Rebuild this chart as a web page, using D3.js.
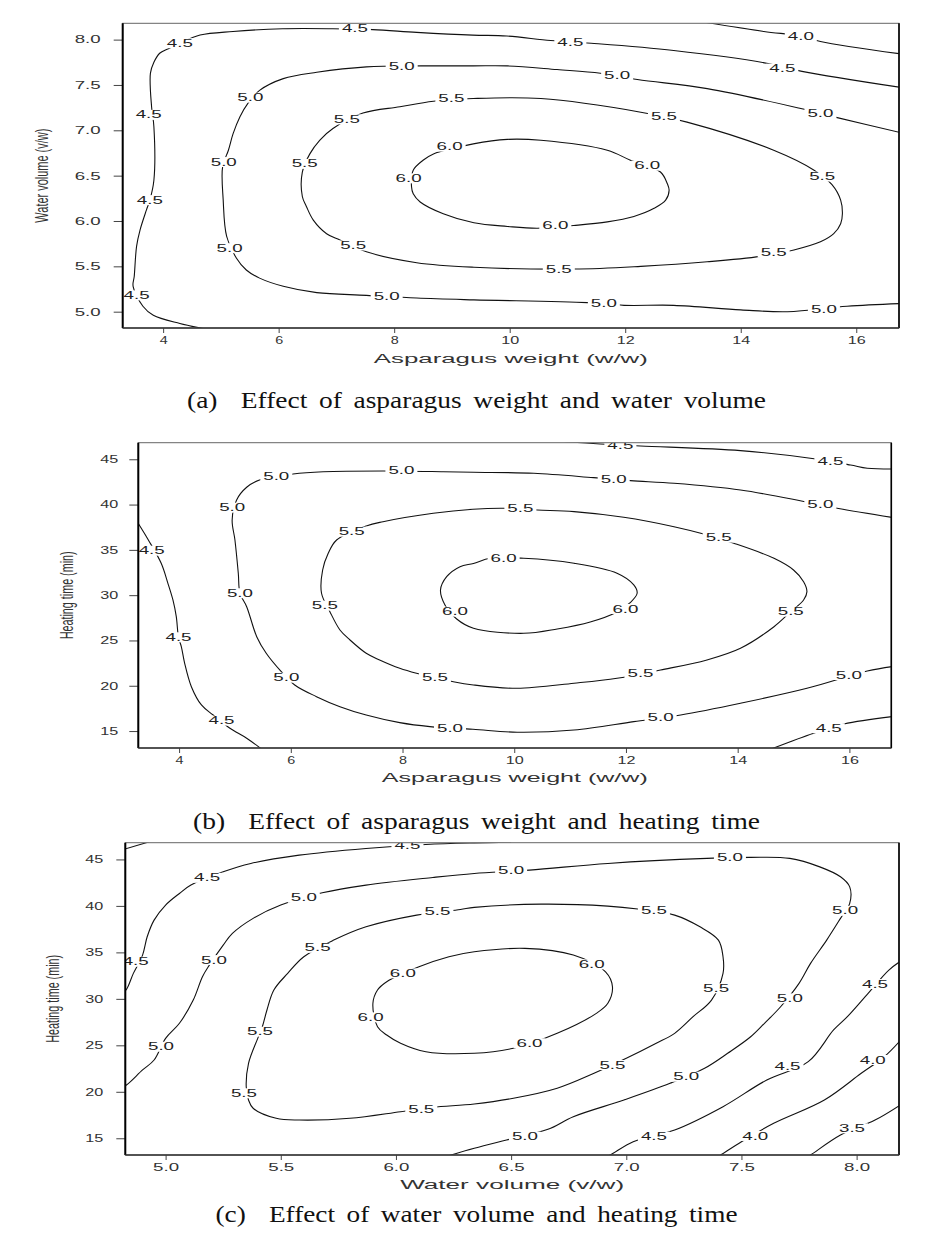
<!DOCTYPE html>
<html>
<head>
<meta charset="utf-8">
<script src="https://cdn.jsdelivr.net/npm/d3@7"></script>
<style>
  body { margin: 0; background: #fff; }
  svg text { font-family: "Liberation Sans", Arial, sans-serif; }
  .caption { font-family: "Liberation Serif", "Times New Roman", serif; white-space: pre; }
</style>
</head>
<body>
<svg id="chart" width="948" height="1243"></svg>
<script>
// ---------- tick values ----------
const ticksAx = [4, 6, 8, 10, 12, 14, 16];
const ticksAy = [5.0, 5.5, 6.0, 6.5, 7.0, 7.5, 8.0];
const ticksBx = [4, 6, 8, 10, 12, 14, 16];
const ticksBy = [15, 20, 25, 30, 35, 40, 45];
const ticksCx = [5.0, 5.5, 6.0, 6.5, 7.0, 7.5, 8.0];
const ticksCy = [15, 20, 25, 30, 35, 40, 45];

// ---------- (a) asparagus weight x water volume : contour lines [x, y] ----------
const a40 = [[13.3,8.2],[14.40,8.09],[15.04,8.04],[15.38,7.98],[16.8,7.84]];
const a40Lab = [[15.04,8.04]];
const a45 = [[4.8,4.80],[4.29,4.87],[3.83,4.96],[3.65,5.06],[3.48,5.28],[3.50,5.39],[3.54,5.72],[3.60,5.90],[3.71,6.12],[3.77,6.23],[3.84,6.45],[3.84,7.04],[3.80,7.26],[3.78,7.63],[3.84,7.75],[3.94,7.85],[4.09,7.90],[4.29,7.96],[4.64,8.05],[5.21,8.09],[6.07,8.12],[6.94,8.12],[7.63,8.11],[8.39,8.08],[9.36,8.05],[9.95,8.04],[10.71,7.99],[11.41,7.96],[12.84,7.88],[14.45,7.74],[15.06,7.65],[16.8,7.47]];
const a45Lab = [[3.54,5.18],[3.77,6.23],[3.75,7.17],[4.29,7.96],[7.32,8.12],[11.05,7.97],[14.72,7.68]];
const a50 = [[16.8,5.09],[15.84,5.06],[14.81,5.00],[14.00,5.02],[12.84,5.07],[11.98,5.07],[11.34,5.10],[9.38,5.13],[8.39,5.15],[7.52,5.18],[6.66,5.21],[6.08,5.28],[5.67,5.37],[5.44,5.46],[5.27,5.59],[5.10,5.83],[5.04,6.23],[5.03,6.60],[5.13,6.78],[5.21,6.96],[5.33,7.15],[5.47,7.30],[5.67,7.44],[6.08,7.57],[6.66,7.64],[7.52,7.70],[8.47,7.71],[9.37,7.71],[9.96,7.71],[10.82,7.67],[11.57,7.63],[12.21,7.56],[13.42,7.46],[15.04,7.24],[15.67,7.14],[16.8,6.97]];
const a50Lab = [[15.44,5.02],[11.63,5.09],[7.87,5.17],[5.15,5.70],[5.05,6.65],[5.51,7.36],[8.13,7.71],[11.86,7.60],[15.38,7.19]];
const a55 = [[6.41,6.27],[6.41,6.54],[6.54,6.74],[6.71,6.89],[6.94,7.02],[7.46,7.19],[8.10,7.26],[8.68,7.32],[9.37,7.35],[10.54,7.35],[12.27,7.20],[13.07,7.09],[14.57,6.78],[15.27,6.56],[15.58,6.40],[15.73,6.23],[15.76,6.08],[15.73,5.97],[15.61,5.86],[15.38,5.77],[14.92,5.68],[14.34,5.61],[13.42,5.55],[12.27,5.50],[11.11,5.47],[9.38,5.49],[8.39,5.54],[7.52,5.66],[7.06,5.79],[6.83,5.86],[6.60,6.01],[6.48,6.16]];
const a55Lab = [[6.45,6.63],[7.18,7.12],[8.99,7.35],[12.67,7.15],[15.41,6.49],[14.57,5.65],[10.85,5.47],[7.29,5.73]];
const a60 = [[8.30,6.38],[8.33,6.56],[8.50,6.67],[8.68,6.74],[9.37,6.85],[9.96,6.90],[10.54,6.89],[11.69,6.78],[12.09,6.67],[12.61,6.54],[12.73,6.41],[12.76,6.34],[12.70,6.23],[12.50,6.14],[12.15,6.05],[11.69,5.99],[11.11,5.95],[10.48,5.92],[9.96,5.94],[9.38,5.98],[8.85,6.08],[8.45,6.21],[8.33,6.30]];
const a60Lab = [[8.25,6.47],[8.96,6.82],[12.38,6.61],[10.79,5.95]];

// ---------- (b) asparagus weight x heating time ----------
const b45left = [[3.22,38.4],[3.45,36.09],[3.68,33.52],[3.80,31.31],[3.89,29.47],[3.95,27.63],[3.99,25.35],[4.04,24.32],[4.10,22.48],[4.22,19.90],[4.40,17.88],[4.61,16.77],[4.91,15.31],[5.21,14.21],[5.50,12.9]];
const b45leftLab = [[3.51,34.91],[3.99,25.35],[4.76,16.15]];
const b45top = [[10.90,46.95],[11.54,46.69],[12.26,46.47],[14.05,45.95],[15.30,45.11],[16.02,44.37],[16.32,44.01],[16.8,43.92]];
const b45topLab = [[11.90,46.58],[15.66,44.81]];
const b45low = [[14.55,12.9],[15.36,14.76],[15.90,15.78],[16.8,16.62]];
const b45lowLab = [[15.63,15.31]];
const b50 = [[16.8,38.55],[15.78,39.59],[15.12,40.43],[14.05,41.61],[12.86,42.35],[12.08,42.64],[11.42,42.97],[10.35,43.45],[9.27,43.57],[8.73,43.63],[7.65,43.71],[6.58,43.63],[6.04,43.38],[5.44,42.72],[5.21,41.91],[5.03,40.51],[4.95,38.30],[5.00,36.09],[5.06,32.42],[5.09,30.21],[5.21,28.73],[5.39,25.42],[5.56,23.59],[5.83,21.56],[6.07,20.09],[6.46,18.80],[6.88,17.69],[7.35,16.77],[7.95,15.93],[8.49,15.49],[9.26,15.20],[10.05,14.87],[11.07,15.12],[12.14,16.04],[12.98,16.77],[14.05,18.07],[15.24,19.72],[16.32,21.63],[16.8,22.15]];
const b50Lab = [[15.48,40.07],[11.78,42.83],[7.98,43.74],[5.74,43.08],[4.95,39.66],[5.09,30.21],[5.92,20.89],[8.85,15.31],[12.62,16.52],[15.99,21.19]];
const b55 = [[9.26,39.48],[8.55,39.04],[7.65,38.11],[7.35,37.64],[6.82,36.09],[6.67,34.62],[6.57,32.78],[6.55,30.21],[6.70,28.18],[6.88,26.16],[7.06,25.05],[7.35,23.59],[7.59,22.85],[7.95,21.93],[8.25,21.38],[8.91,20.45],[9.27,20.09],[10.05,19.72],[11.07,20.28],[11.84,20.83],[12.62,21.74],[13.45,22.85],[14.05,24.14],[14.65,26.52],[14.95,28.18],[15.18,29.47],[15.24,30.39],[15.18,31.49],[15.00,32.78],[14.65,34.07],[13.93,35.73],[13.39,36.75],[12.86,37.56],[11.96,38.60],[11.07,39.22],[10.41,39.40],[9.81,39.59]];
const b55Lab = [[7.09,37.01],[6.61,28.84],[8.58,20.94],[12.26,21.38],[14.95,28.18],[13.66,36.35],[10.11,39.59]];
const b60 = [[9.27,33.50],[9.57,34.07],[10.17,34.07],[11.07,33.52],[11.84,32.42],[12.14,31.13],[12.20,30.21],[12.07,29.14],[11.84,28.15],[11.36,27.04],[10.77,26.27],[10.17,25.79],[9.27,26.35],[8.97,27.37],[8.76,28.92],[8.68,30.57],[8.79,32.04],[9.03,33.15]];
const b60Lab = [[8.94,28.18],[9.81,34.07],[11.99,28.48]];

// ---------- (c) water volume x heating time ----------
const c45corner = [[4.80,45.95],[4.93,46.9]];
const c45top = [[4.81,30.6],[4.83,31.02],[4.86,32.74],[4.90,34.71],[4.92,36.68],[4.95,38.47],[5.00,40.09],[5.06,41.34],[5.11,42.24],[5.25,43.67],[5.37,44.57],[5.58,45.46],[5.87,46.18],[6.13,46.61],[6.34,46.78],[6.5,46.85]];
const c45topLab = [[4.87,33.99],[5.18,43.02],[6.05,46.54]];
const c50 = [[4.81,20.5],[4.83,20.73],[4.90,22.35],[4.95,23.42],[5.00,25.75],[5.06,27.37],[5.12,29.87],[5.16,32.38],[5.19,33.63],[5.25,35.78],[5.29,37.04],[5.38,38.66],[5.50,40.09],[5.68,41.41],[5.87,42.24],[6.16,43.06],[6.34,43.49],[6.58,43.85],[6.92,44.57],[7.35,45.11],[7.54,45.22],[7.71,45.11],[7.84,44.20],[7.93,43.13],[7.97,42.05],[7.97,40.27],[7.93,38.66],[7.87,36.32],[7.80,33.82],[7.75,31.67],[7.67,29.15],[7.60,27.37],[7.54,25.92],[7.44,24.14],[7.34,22.53],[7.19,20.91],[6.99,19.12],[6.77,17.32],[6.66,15.96],[6.48,14.82],[6.34,13.92],[6.20,12.9]];
const c50Lab = [[4.98,24.85],[5.21,34.17],[5.60,40.87],[6.50,43.77],[7.45,45.17],[7.95,39.47],[7.71,30.05],[7.26,21.62],[6.56,15.17]];
const c55 = [[5.42,27.00],[5.44,28.80],[5.47,30.95],[5.53,32.74],[5.60,34.53],[5.73,36.32],[5.87,37.75],[6.09,39.01],[6.28,39.62],[6.34,39.84],[6.63,40.19],[6.92,39.98],[7.05,39.66],[7.21,39.01],[7.32,37.75],[7.40,36.32],[7.42,34.53],[7.42,32.74],[7.37,29.87],[7.29,28.08],[7.21,26.29],[7.13,25.22],[7.00,23.60],[6.86,21.99],[6.70,20.38],[6.51,19.30],[6.34,18.69],[6.16,18.33],[6.02,17.86],[5.80,17.15],[5.58,16.96],[5.48,17.15],[5.38,18.23],[5.36,19.12],[5.35,20.55],[5.36,23.06],[5.40,25.75]];
const c55Lab = [[5.66,35.49],[6.18,39.44],[7.12,39.47],[7.39,31.13],[6.94,22.88],[6.11,18.12],[5.34,19.84],[5.41,26.47]];
const c60 = [[5.92,27.00],[5.90,29.52],[5.92,30.95],[5.96,31.84],[6.10,33.45],[6.23,34.53],[6.34,35.06],[6.56,35.43],[6.77,34.71],[6.91,32.91],[6.94,31.30],[6.92,29.52],[6.87,28.44],[6.70,26.29],[6.51,24.68],[6.34,24.14],[6.13,24.31],[6.02,25.22],[5.96,26.11]];
const c60Lab = [[5.89,28.01],[6.03,32.74],[6.85,33.71],[6.58,25.22]];
const c45right = [[8.2,34.2],[8.14,33.10],[8.05,30.59],[7.96,28.08],[7.90,26.65],[7.79,23.24],[7.61,21.27],[7.42,18.40],[7.21,15.89],[7.03,14.63],[6.93,13.20],[6.90,12.9]];
const c45rightLab = [[8.08,31.59],[7.70,22.77],[7.12,15.17]];
const c40 = [[8.2,25.8],[8.12,23.77],[8.02,21.99],[7.86,19.12],[7.64,16.61],[7.50,14.63],[7.41,13.20],[7.39,12.9]];
const c40Lab = [[8.07,23.42],[7.56,15.25]];
const c35 = [[8.2,18.75],[8.08,16.96],[7.93,15.35],[7.80,13.20],[7.78,12.9]];
const c35Lab = [[7.98,16.07]];

// ---------- panel set-up ----------
const panels = [
  {
    id: "a", left: 122.7, right: 899, top: 23.3, bottom: 328,
    xDomain: [3.30, 16.74], yDomain: [4.82, 8.18],
    xTicks: ticksAx, yTicks: ticksAy, xFmt: d3.format("d"), yFmt: d3.format(".1f"),
    yPad: 13,
    xTitle: "Asparagus weight (w/w)", xTitleY: 363, xTitleLen: 274,
    yTitle: "Water volume (v/w)", yTitleX: 48, yTitleLen: 94,
    caption: "(a)  Effect of asparagus weight and water volume", capY: 408, capLen: 579,
    lines: [
      {lv: "4.0", pts: a40, lab: a40Lab},
      {lv: "4.5", pts: a45, lab: a45Lab},
      {lv: "5.0", pts: a50, lab: a50Lab},
      {lv: "5.5", pts: a55, lab: a55Lab, closed: true},
      {lv: "6.0", pts: a60, lab: a60Lab, closed: true}
    ]
  },
  {
    id: "b", left: 138.3, right: 891.3, top: 442.7, bottom: 748,
    xDomain: [3.27, 16.75], yDomain: [13.13, 46.83],
    xTicks: ticksBx, yTicks: ticksBy, xFmt: d3.format("d"), yFmt: d3.format("d"),
    yPad: 11,
    xTitle: "Asparagus weight (w/w)", xTitleY: 782, xTitleLen: 266,
    yTitle: "Heating time (min)", yTitleX: 73, yTitleLen: 88,
    caption: "(b)  Effect of asparagus weight and heating time", capY: 829, capLen: 567,
    lines: [
      {lv: "4.5", pts: b45left, lab: b45leftLab},
      {lv: "4.5", pts: b45top, lab: b45topLab},
      {lv: "4.5", pts: b45low, lab: b45lowLab},
      {lv: "5.0", pts: b50, lab: b50Lab},
      {lv: "5.5", pts: b55, lab: b55Lab, closed: true},
      {lv: "6.0", pts: b60, lab: b60Lab, closed: true}
    ]
  },
  {
    id: "c", left: 125.3, right: 899, top: 842.7, bottom: 1155,
    xDomain: [4.825, 8.184], yDomain: [13.2, 46.8],
    xTicks: ticksCx, yTicks: ticksCy, xFmt: d3.format(".1f"), yFmt: d3.format("d"),
    yPad: 13,
    xTitle: "Water volume (v/w)", xTitleY: 1189, xTitleLen: 224,
    yTitle: "Heating time (min)", yTitleX: 59, yTitleLen: 88,
    caption: "(c)  Effect of water volume and heating time", capY: 1222, capLen: 522,
    lines: [
      {lv: "4.5", pts: c45corner, lab: []},
      {lv: "4.5", pts: c45top, lab: c45topLab},
      {lv: "5.0", pts: c50, lab: c50Lab},
      {lv: "5.5", pts: c55, lab: c55Lab, closed: true},
      {lv: "6.0", pts: c60, lab: c60Lab, closed: true},
      {lv: "4.5", pts: c45right, lab: c45rightLab},
      {lv: "4.0", pts: c40, lab: c40Lab},
      {lv: "3.5", pts: c35, lab: c35Lab}
    ]
  }
];

const svg = d3.select("#chart");

// largeur des chiffres : l'original a des chiffres tres larges
function textLen(s) {
  let w = 0;
  for (const ch of s) w += (ch === ".") ? 8 : 10;
  return w - 2;
}

function drawPanel(p) {
  const x = d3.scaleLinear().domain(p.xDomain).range([p.left, p.right]);
  const y = d3.scaleLinear().domain(p.yDomain).range([p.bottom, p.top]);
  const g = svg.append("g").attr("class", "panel-" + p.id);

  g.append("clipPath").attr("id", "clip-" + p.id)
    .append("rect")
    .attr("x", p.left).attr("y", p.top)
    .attr("width", p.right - p.left).attr("height", p.bottom - p.top);

  const plot = g.append("g").attr("clip-path", `url(#clip-${p.id})`);

  // contour lines
  p.lines.forEach(c => {
    const line = d3.line()
      .x(d => x(d[0]))
      .y(d => y(d[1]))
      .curve(c.closed ? d3.curveCatmullRomClosed.alpha(0.5) : d3.curveCatmullRom.alpha(0.5));
    plot.append("path")
      .attr("d", line(c.pts))
      .attr("fill", "none")
      .attr("stroke", "#111")
      .attr("stroke-width", 1.1);
  });

  // contour labels (white box cuts the line)
  p.lines.forEach(c => {
    c.lab.forEach(d => {
      const len = textLen(c.lv);
      plot.append("rect")
        .attr("x", x(d[0]) - len / 2 - 3)
        .attr("y", y(d[1]) - 5)
        .attr("width", len + 6)
        .attr("height", 10)
        .attr("fill", "#fff");
      plot.append("text")
        .attr("x", x(d[0]))
        .attr("y", y(d[1]))
        .attr("dy", "0.36em")
        .attr("text-anchor", "middle")
        .attr("textLength", len)
        .attr("lengthAdjust", "spacingAndGlyphs")
        .style("font-size", "10px")
        .style("fill", "#222")
        .text(c.lv);
    });
  });

  // axes
  const xAxis = g.append("g")
    .attr("transform", `translate(0,${p.bottom})`)
    .call(d3.axisBottom(x).tickValues(p.xTicks).tickFormat(p.xFmt).tickSize(5).tickPadding(4));
  const yAxis = g.append("g")
    .attr("transform", `translate(${p.left},0)`)
    .call(d3.axisLeft(y).tickValues(p.yTicks).tickFormat(p.yFmt).tickSize(9).tickPadding(p.yPad));
  [xAxis, yAxis].forEach(ax => {
    ax.select(".domain").remove();
    ax.selectAll(".tick line").attr("stroke", "#444");
    ax.selectAll(".tick text")
      .style("font-size", "10.5px")
      .style("fill", "#333")
      .attr("textLength", function () { return textLen(this.textContent); })
      .attr("lengthAdjust", "spacingAndGlyphs");
  });

  // frame
  g.append("rect")
    .attr("x", p.left).attr("y", p.top)
    .attr("width", p.right - p.left).attr("height", p.bottom - p.top)
    .attr("fill", "none").attr("stroke", "#666").attr("stroke-width", 1);
  g.append("line")
    .attr("x1", p.left).attr("x2", p.left).attr("y1", p.top).attr("y2", p.bottom)
    .attr("stroke", "#000").attr("stroke-width", 2);
  g.append("line")
    .attr("x1", p.right).attr("x2", p.right).attr("y1", p.top).attr("y2", p.bottom)
    .attr("stroke", "#000").attr("stroke-width", 1.6);
  g.append("line")
    .attr("x1", p.left).attr("x2", p.right).attr("y1", p.bottom).attr("y2", p.bottom)
    .attr("stroke", "#333").attr("stroke-width", 1.3);

  // axis titles
  g.append("text")
    .attr("x", (p.left + p.right) / 2)
    .attr("y", p.xTitleY)
    .attr("text-anchor", "middle")
    .attr("textLength", p.xTitleLen)
    .attr("lengthAdjust", "spacingAndGlyphs")
    .style("font-size", "12.5px")
    .style("fill", "#333")
    .text(p.xTitle);

  g.append("text")
    .attr("transform", `translate(${p.yTitleX},${(p.top + p.bottom) / 2}) rotate(-90)`)
    .attr("text-anchor", "middle")
    .attr("textLength", p.yTitleLen)
    .attr("lengthAdjust", "spacingAndGlyphs")
    .style("font-size", "19px")
    .style("fill", "#333")
    .text(p.yTitle);

  // caption
  g.append("text")
    .attr("class", "caption")
    .attr("x", 476.5)
    .attr("y", p.capY)
    .attr("text-anchor", "middle")
    .attr("textLength", p.capLen)
    .attr("lengthAdjust", "spacingAndGlyphs")
    .style("font-size", "23px")
    .style("word-spacing", "4px")
    .style("fill", "#111")
    .text(p.caption);
}

panels.forEach(drawPanel);
</script>
</body>
</html>
